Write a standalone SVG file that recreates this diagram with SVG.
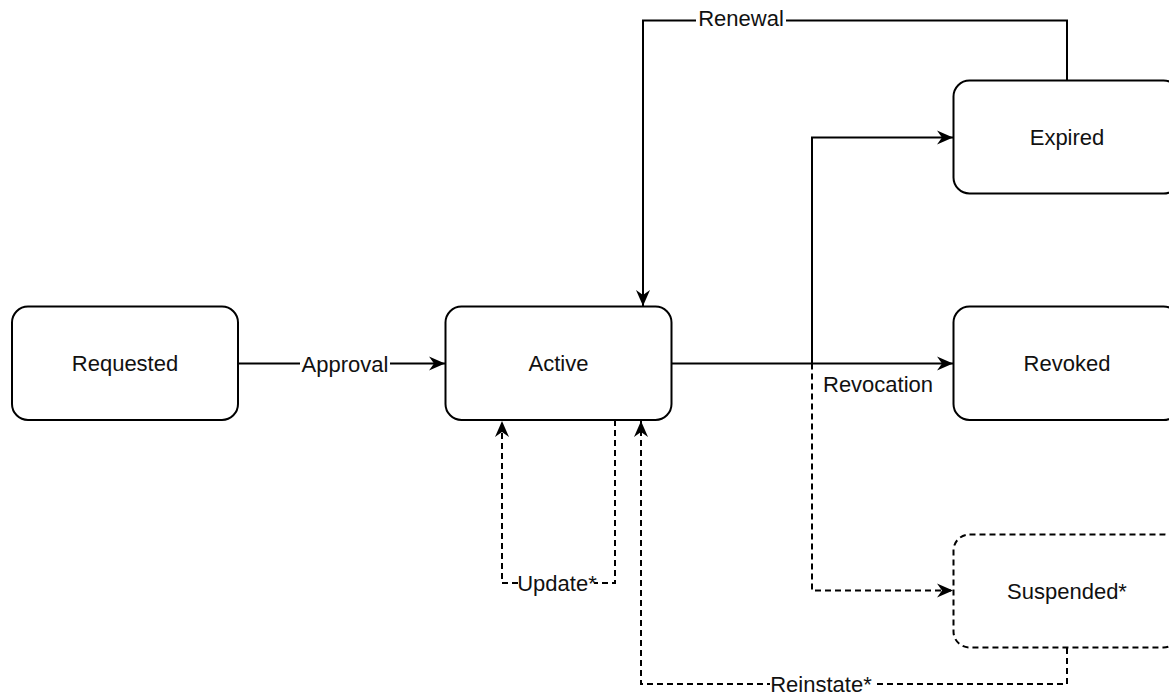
<svg xmlns="http://www.w3.org/2000/svg" width="1169" height="696" viewBox="0 0 1169 696">
<style>
.box{fill:#fff;stroke:#000;stroke-width:2}
.dbox{fill:#fff;stroke:#000;stroke-width:2;stroke-dasharray:6 4}
.ln{fill:none;stroke:#000;stroke-width:2}
.dl{fill:none;stroke:#000;stroke-width:2;stroke-dasharray:6 4}
.t{font-family:"Liberation Sans",Arial,Helvetica,sans-serif;font-size:22px;fill:#111}
.c{text-anchor:middle}
.bg{fill:#fff}
</style>
<defs>
<marker id="arr" markerUnits="userSpaceOnUse" markerWidth="18" markerHeight="16" refX="16" refY="8" orient="auto">
<path d="M0,1 L16,8 L0,15 L5,8 Z" fill="#000"/>
</marker>
</defs>
<rect width="1169" height="696" fill="#fff"/>
<g id="connectors">
<path class="ln" d="M238,363.5 H445" marker-end="url(#arr)"/>
<path class="ln" d="M672,363.5 H953" marker-end="url(#arr)"/>
<path class="ln" d="M812,363.5 V137.5 H953" marker-end="url(#arr)"/>
<path class="dl" d="M812,363.5 V590.5 H953" marker-end="url(#arr)"/>
<path class="ln" d="M1067,80 V20.5 H643 V306" marker-end="url(#arr)"/>
<path class="dl" d="M615,420 V583 H502 V421" marker-end="url(#arr)"/>
<path class="dl" d="M1067,648 V684 H641 V421" marker-end="url(#arr)"/>
<rect class="bg" x="300" y="352" width="90" height="24"/>
<text class="t c" x="345" y="372">Approval</text>
<rect class="bg" x="696" y="8" width="90" height="24"/>
<text class="t c" x="741" y="26">Renewal</text>
<text class="t" x="823" y="392">Revocation</text>
<rect class="bg" x="520" y="572" width="74" height="24"/>
<text class="t c" x="557" y="591">Update*</text>
<rect class="bg" x="770" y="673" width="103" height="23"/>
<text class="t c" x="821" y="692">Reinstate*</text>
</g>
<g id="requested">
<rect class="box" x="12" y="306.5" width="226" height="113.5" rx="16"/>
<text class="t c" x="125" y="371">Requested</text>
</g>
<g id="active">
<rect class="box" x="445.5" y="306.5" width="226" height="113.5" rx="16"/>
<text class="t c" x="558.5" y="371">Active</text>
</g>
<g id="expired">
<rect class="box" x="953.5" y="80.5" width="226" height="113" rx="16"/>
<text class="t c" x="1067" y="145">Expired</text>
</g>
<g id="revoked">
<rect class="box" x="953.5" y="306.5" width="226" height="113.5" rx="16"/>
<text class="t c" x="1067" y="371">Revoked</text>
</g>
<g id="suspended">
<rect class="dbox" x="953.5" y="534.5" width="226" height="113" rx="16"/>
<text class="t c" x="1067" y="599">Suspended*</text>
</g>
</svg>
